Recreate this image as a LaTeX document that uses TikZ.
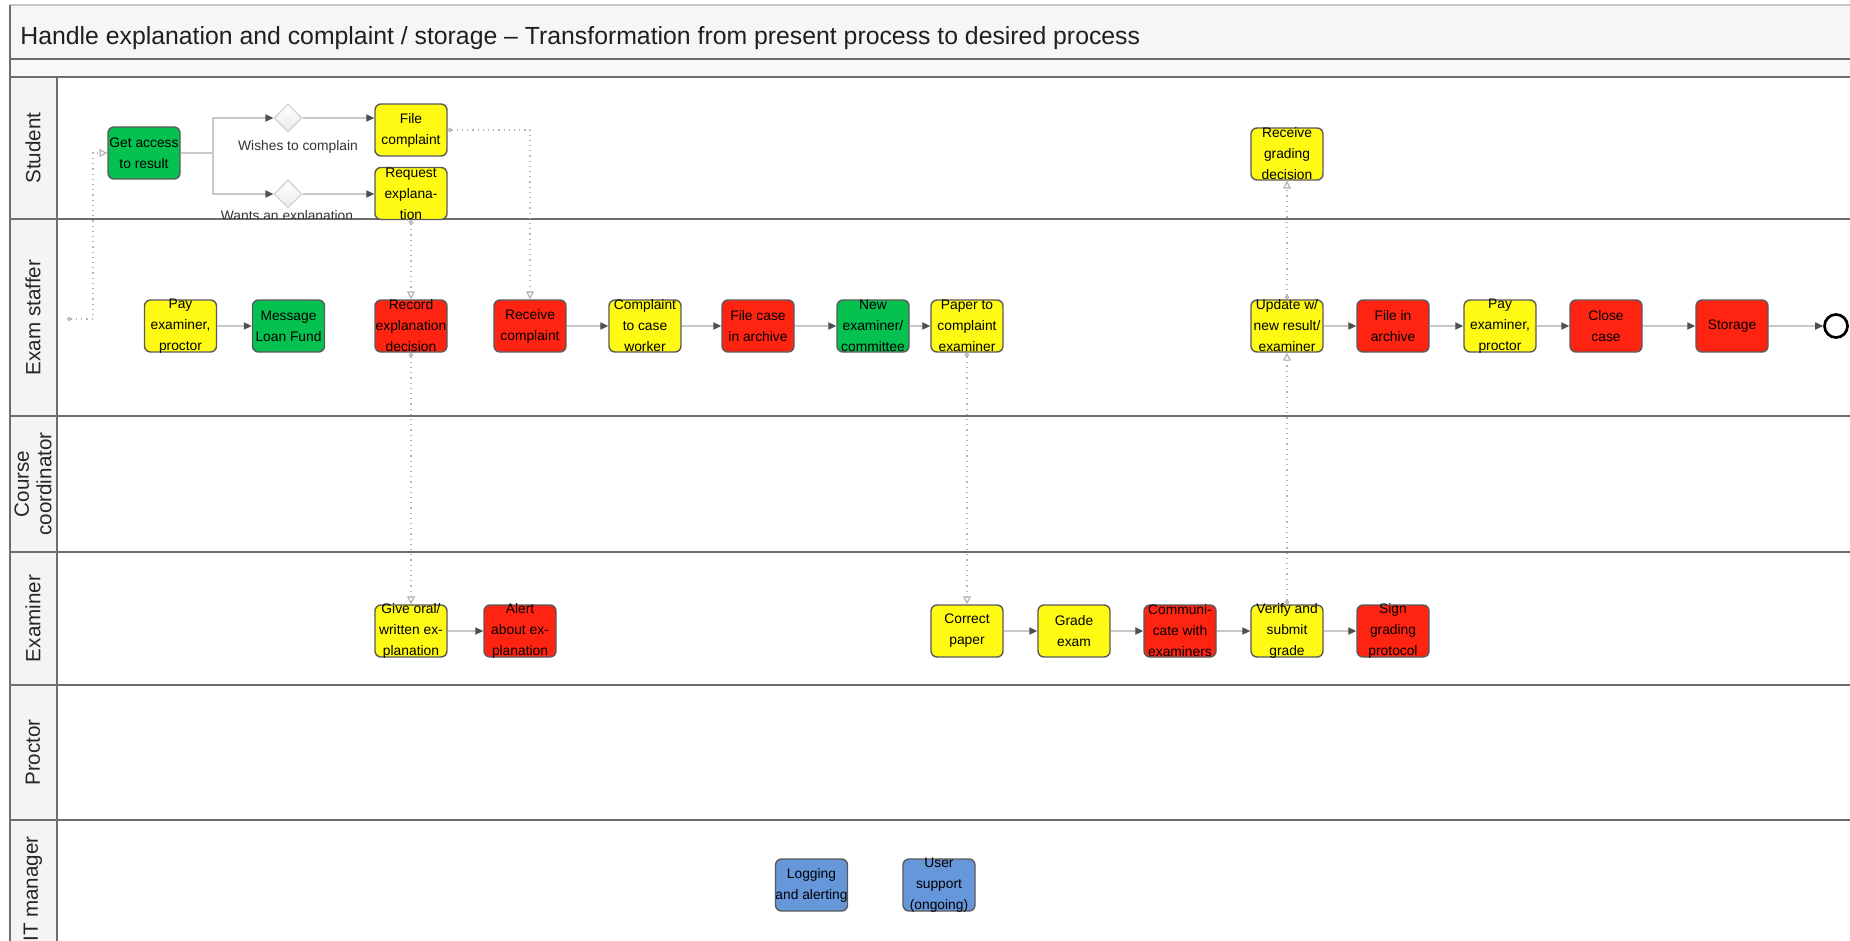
\documentclass[tikz,border=0pt]{standalone}
\usepackage{fontspec}
\setmainfont{Liberation Sans}
\usetikzlibrary{arrows.meta,shapes.geometric}

\definecolor{taskyellow}{HTML}{FFFA14}
\definecolor{taskred}{HTML}{FF2412}
\definecolor{taskgreen}{HTML}{05C150}
\definecolor{taskblue}{HTML}{6597DA}
\definecolor{boxline}{HTML}{5A5A5A}
\definecolor{flowline}{HTML}{C8C8C8}
\definecolor{headgray}{HTML}{505050}
\definecolor{msgline}{HTML}{B4B4B4}
\definecolor{laneline}{HTML}{6E6E6E}
\definecolor{headerfill}{HTML}{F4F4F4}
\definecolor{titlefill}{HTML}{F6F6F6}
\definecolor{bandfill}{HTML}{F8F8F8}
\definecolor{gateline}{HTML}{D2D2D2}

\tikzset{
  taskbox/.style={draw=boxline, line width=0.7pt, rounded corners=3pt,
    minimum width=36pt, minimum height=26pt, inner sep=0pt},
  tasktext/.style={align=center, font=\fontsize{6.9}{10.5}\selectfont,
    inner sep=0pt, text=black},
  gate/.style={diamond, aspect=1, draw=gateline, line width=0.6pt,
    top color=white, bottom color=black!8, minimum width=14pt,
    minimum height=14pt, inner sep=0pt},
  flow/.style={draw=flowline, line width=0.6pt,
    -{Triangle[length=4pt,width=3.6pt,color=headgray]}},
  flowplain/.style={draw=flowline, line width=0.6pt},
  msg/.style={draw=msgline, line width=0.6pt, dotted,
    {Circle[open,length=2.2pt,color=msgline]}-{Triangle[open,length=4pt,width=4pt,color=msgline]}},
  lanelabel/.style={rotate=90, align=center, font=\fontsize{10.3}{11.3}\selectfont,
    text=black!85, inner sep=0pt},
  edgelabel/.style={font=\fontsize{6.9}{8}\selectfont, text=black!80, inner sep=0pt},
  laneline/.style={draw=laneline, line width=0.6pt},
}

% a task: name, x, y, fill colour, text (text may spill over the box)
\newcommand{\taskat}[5]{%
  \node[taskbox, fill=#4] (#1) at (#2,#3) {};
  \node[tasktext] (#1-t) at (#1.center) {#5};}

\begin{document}
\begin{tikzpicture}[x=0.5pt, y=-0.5pt]
\useasboundingbox (0,0) rectangle (1850,941);
\clip (0,0) rectangle (1850,941);

% ---- pool frame, title and lanes
\fill[white] (0,0) rectangle (1850,941);
\fill[titlefill] (10,5) rectangle (1850,59);
\fill[bandfill] (10,59) rectangle (1850,77);
\fill[headerfill] (10,77) rectangle (57,941);
\draw[draw=black!22, line width=0.8pt] (10,5) -- (1850,5);
\draw[laneline] (10,5) -- (10,941);
\draw[laneline] (10,59) -- (1850,59);
\draw[laneline] (10,77) -- (1850,77);
\draw[laneline] (57,77) -- (57,941);
\foreach \yy in {219,416,552,685,820}
  \draw[laneline] (10,\yy) -- (1850,\yy);

\node[anchor=base west, font=\fontsize{12.4}{14}\selectfont, text=black!88, inner sep=0pt]
  (title) at (20,45) {Handle explanation and complaint / storage -- Transformation from present process to desired process};

\node[lanelabel] (l1) at (33,148) {Student};
\node[lanelabel] (l2) at (33,317.5) {Exam staffer};
\node[lanelabel] (l3) at (33,484) {Course\\coordinator};
\node[lanelabel] (l4) at (33,618.5) {Examiner};
\node[lanelabel] (l5) at (33,752.5) {Proctor};
\node[lanelabel] (l6) at (33,889) {IT manager};

% ---- gateway labels (the lower one runs under the lane border)
\begin{scope}
  \clip (57,77) rectangle (1850,219);
  \node[edgelabel] (w1) at (298,147) {Wishes to complain};
  \node[edgelabel] (w2) at (287,217) {Wants an explanation};
\end{scope}

% ---- student lane
\taskat{ga}{144}{153}{taskgreen}{Get access\\to result}
\taskat{fc}{411}{130}{taskyellow}{File\\complaint}
\taskat{re}{411}{193.5}{taskyellow}{Request\\explana-\\tion}
\taskat{rg}{1287}{154}{taskyellow}{Receive\\grading\\decision}
\node[gate] (d1) at (288,118) {};
\node[gate] (d2) at (288,194) {};

% ---- exam staffer lane
\taskat{pe1}{180.5}{326}{taskyellow}{Pay\\examiner,\\proctor}
\taskat{ml}{288.5}{326}{taskgreen}{Message\\Loan Fund}
\taskat{rd}{411}{326}{taskred}{Record\\explanation\\decision}
\taskat{rc}{530}{326}{taskred}{Receive\\complaint}
\taskat{cw}{645}{326}{taskyellow}{Complaint\\to case\\worker}
\taskat{fa}{758}{326}{taskred}{File case\\in archive}
\taskat{ne}{873}{326}{taskgreen}{New\\examiner/\\committee}
\taskat{pc}{967}{326}{taskyellow}{Paper to\\complaint\\examiner}
\taskat{up}{1287}{326}{taskyellow}{Update w/\\new result/\\examiner}
\taskat{fi}{1393}{326}{taskred}{File in\\archive}
\taskat{pe2}{1500}{326}{taskyellow}{Pay\\examiner,\\proctor}
\taskat{cc}{1606}{326}{taskred}{Close\\case}
\taskat{st}{1732}{326}{taskred}{Storage}
\node[circle, draw=black, line width=1.35pt, minimum size=11.5pt, inner sep=0pt]
  (end) at (1836,326) {};

% ---- examiner lane
\taskat{go}{411}{631}{taskyellow}{Give oral/\\written ex-\\planation}
\taskat{aa}{520}{631}{taskred}{Alert\\about ex-\\planation}
\taskat{cp}{967}{631}{taskyellow}{Correct\\paper}
\taskat{ge}{1074}{631}{taskyellow}{Grade\\exam}
\taskat{cm}{1180}{631}{taskred}{Communi-\\cate with\\examiners}
\taskat{vs}{1287}{631}{taskyellow}{Verify and\\submit\\grade}
\taskat{sg}{1393}{631}{taskred}{Sign\\grading\\protocol}

% ---- IT manager lane
\taskat{lg}{811.5}{885}{taskblue}{Logging\\and alerting}
\taskat{us}{939}{885}{taskblue}{User\\support\\(ongoing)}

% ---- sequence flows
\coordinate (br) at (213,153);
\draw[flowplain] (ga.east) -- (br);
\draw[flow] (br) |- (d1.west);
\draw[flow] (br) |- (d2.west);
\draw[flow] (d1.east) -- (fc.west |- d1.east);
\draw[flow] (d2.east) -- (re.west |- d2.east);
\draw[flow] (pe1.east) -- (ml.west);
\draw[flow] (rc.east) -- (cw.west);
\draw[flow] (cw.east) -- (fa.west);
\draw[flow] (fa.east) -- (ne.west);
\draw[flow] (ne.east) -- (pc.west);
\draw[flow] (up.east) -- (fi.west);
\draw[flow] (fi.east) -- (pe2.west);
\draw[flow] (pe2.east) -- (cc.west);
\draw[flow] (cc.east) -- (st.west);
\draw[flow] (st.east) -- (end.west);
\draw[flow] (go.east) -- (aa.west);
\draw[flow] (cp.east) -- (ge.west);
\draw[flow] (ge.east) -- (cm.west);
\draw[flow] (cm.east) -- (vs.west);
\draw[flow] (vs.east) -- (sg.west);

% ---- message flows
\coordinate (src) at (67,319);
\draw[msg] (src) -- (93,319) |- (ga.west);
\draw[msg] (re.south) -- (rd.north);
\draw[msg] (fc.east) -| (rc.north);
\draw[msg] (rd.south) -- (go.north);
\draw[msg] (pc.south) -- (cp.north);
\draw[msg] (vs.north) -- (up.south);
\draw[msg] (up.north) -- (rg.south);
\end{tikzpicture}
\end{document}
